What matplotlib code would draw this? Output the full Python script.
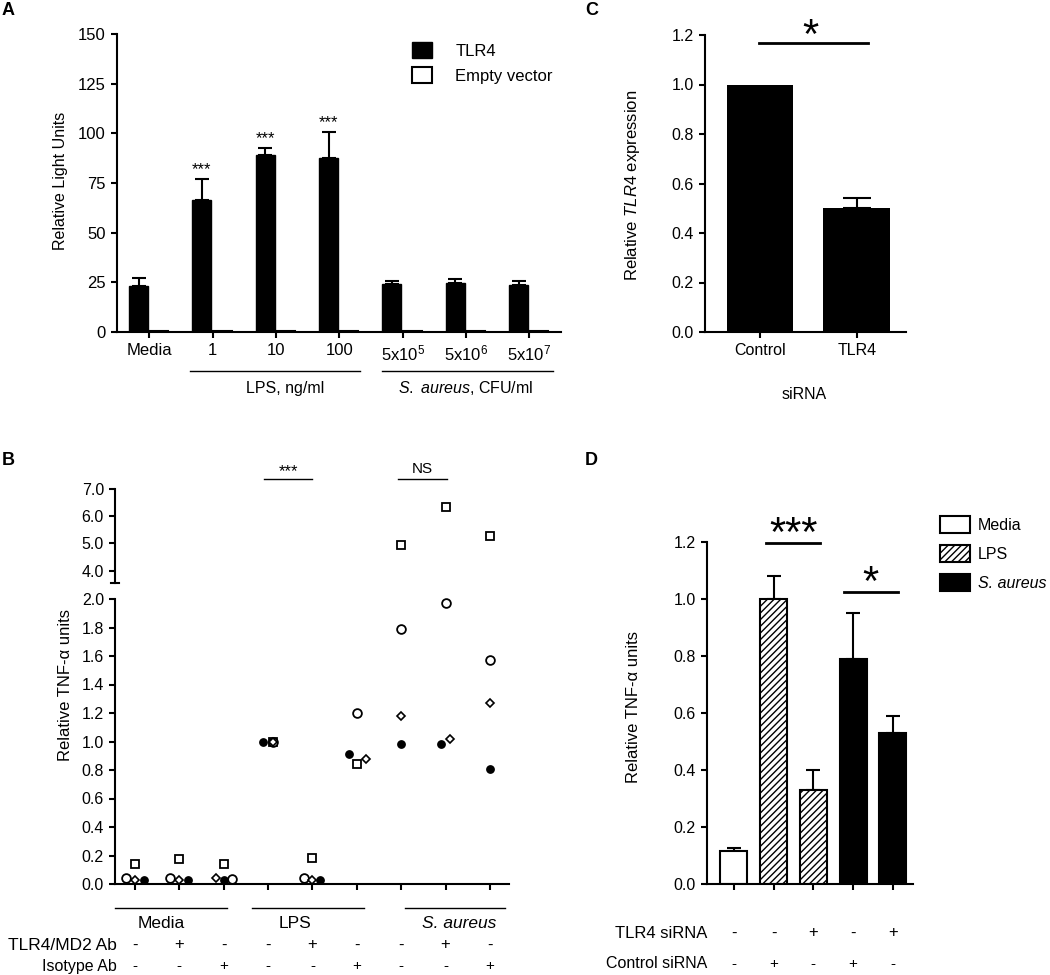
import numpy as np
import matplotlib.pyplot as plt
from matplotlib.ticker import FormatStrFormatter
from matplotlib.transforms import blended_transform_factory

plt.rcParams['font.family'] = ['Liberation Sans', 'DejaVu Sans']
plt.rcParams['mathtext.fontset'] = 'custom'
plt.rcParams['mathtext.rm'] = 'Liberation Sans'
plt.rcParams['mathtext.it'] = 'Liberation Sans:italic'
plt.rcParams['hatch.linewidth'] = 1.0

# ---- panel A data ----
a_labels = ['Media', '1', '10', '100', '5x10$^{5}$', '5x10$^{6}$', '5x10$^{7}$']
a_tlr4 = [23, 66.5, 89, 87.5, 24, 24.5, 23.5]
a_tlr4_err = [4, 10.5, 3.5, 13, 1.5, 2, 2]
a_empty = [0.4, 0.5, 0.6, 0.5, 0.4, 0.5, 0.5]
a_stars = ['', '***', '***', '***', '', '', '']
a_groups = ['LPS, ng/ml', r'$\mathit{S.\ aureus}$, CFU/ml']

# ---- panel C data ----
c_labels = ['Control', 'TLR4']
c_vals = [1.0, 0.50]
c_err = [0.0, 0.04]

# ---- panel B data (one list per donor) ----
b_groups = ['Media', 'LPS', 'S. aureus']
b_tlr4md2 = ['-', '+', '-', '-', '+', '-', '-', '+', '-']
b_isotype = ['-', '-', '+', '-', '-', '+', '-', '-', '+']
b_square = [0.14, 0.175, 0.14, 1.0, 0.18, 0.845, 4.95, 6.35, 5.28]
b_circle = [0.04, 0.045, 0.035, 1.0, 0.045, 1.2, 1.79, 1.97, 1.57]
b_diamond = [0.025, 0.025, 0.04, 1.0, 0.025, 0.88, 1.18, 1.02, 1.27]
b_filled = [0.025, 0.025, 0.025, 1.0, 0.025, 0.915, 0.98, 0.985, 0.81]

# ---- panel D data ----
d_kind = ['Media', 'LPS', 'LPS', 'S. aureus', 'S. aureus']
d_vals = [0.115, 1.0, 0.33, 0.79, 0.53]
d_err = [0.01, 0.08, 0.07, 0.16, 0.06]
d_tlr4si = ['-', '-', '+', '-', '+']
d_ctrlsi = ['-', '+', '-', '+', '-']

W, H = 1050, 975
fig = plt.figure(figsize=(W / 100, H / 100), dpi=100)

TICK_FS = 11.5
LAB_FS = 12


def px_axes(left, top, right, bottom):
    return fig.add_axes([left / W, 1 - bottom / H, (right - left) / W, (bottom - top) / H])


def fy(py):
    return 1 - py / H


def style(ax, fs=TICK_FS):
    for s in ['top', 'right']:
        ax.spines[s].set_visible(False)
    for s in ['left', 'bottom']:
        ax.spines[s].set_linewidth(1.5)
    ax.tick_params(width=1.5, length=4.5, labelsize=fs, direction='out')


# panel letters
for letter, px, py in [('A', 2, 2), ('C', 585, 2), ('B', 2, 452), ('D', 585, 452)]:
    fig.text(px / W, fy(py), letter, fontsize=13, fontweight='bold', ha='left', va='top')

# ================= A =================
ax = px_axes(117, 34, 561, 332)
style(ax, 12)
xa = np.arange(len(a_labels))
ax.bar(xa - 0.17, a_tlr4, 0.3, color='black', edgecolor='black', label='TLR4', zorder=2)
ax.bar(xa + 0.15, a_empty, 0.3, facecolor='white', edgecolor='black', linewidth=1.5,
       label='Empty vector', zorder=2)
ax.errorbar(xa - 0.17, a_tlr4, yerr=[np.zeros(len(xa)), a_tlr4_err], fmt='none', ecolor='black',
            elinewidth=1.5, capsize=5, capthick=1.5, zorder=1)
for xi, v, e, s in zip(xa, a_tlr4, a_tlr4_err, a_stars):
    if s:
        ax.text(xi - 0.17, v + e + 1, s, ha='center', va='bottom', fontsize=12)
ax.set_xlim(-0.51, 6.5)
ax.set_ylim(0, 150)
ax.set_yticks(np.arange(0, 151, 25))
ax.set_xticks(xa)
ax.set_xticklabels(a_labels)
ax.set_ylabel('Relative Light Units', fontsize=11.5)
ax.yaxis.set_label_coords(68 / W, fy(181), transform=fig.transFigure)
tA = blended_transform_factory(ax.transData, fig.transFigure)
for (x0, x1), lab, xc in zip([(0.65, 3.33), (3.67, 6.37)], a_groups, [2.15, 5.0]):
    ax.plot([x0, x1], [fy(371)] * 2, transform=tA, color='black', lw=1, clip_on=False)
    ax.text(xc, fy(388), lab, transform=tA, ha='center', va='center', fontsize=11.5)
ax.legend(loc='upper left', bbox_to_anchor=(412 / W, fy(42)), bbox_transform=fig.transFigure,
          frameon=False, fontsize=12, handlelength=1.2, handleheight=1.1, labelspacing=0.5,
          handletextpad=1.4, borderpad=0, borderaxespad=0)

# ================= C =================
ax = px_axes(705, 35, 906, 332)
style(ax)
xc_ = np.arange(1, len(c_labels) + 1)
ax.bar(xc_, c_vals, 0.69, color='black', zorder=2)
has_err = np.array(c_err) > 0
ax.errorbar(xc_[has_err], np.array(c_vals)[has_err],
            yerr=[np.zeros(has_err.sum()), np.array(c_err)[has_err]], fmt='none',
            ecolor='black', elinewidth=1.5, capsize=10, capthick=1.5, zorder=1)
ax.set_xlim(0.43, 2.51)
ax.set_ylim(0, 1.2)
ax.set_yticks(np.arange(0, 1.21, 0.2))
ax.yaxis.set_major_formatter(FormatStrFormatter('%.1f'))
ax.set_xticks(xc_)
ax.set_xticklabels(c_labels)
ax.plot([0.99, 2.12], [1.168, 1.168], color='black', lw=2, clip_on=False)
ax.text(1.52, 1.147, '*', ha='center', va='baseline', fontsize=30)
ax.set_ylabel('Relative $\\mathit{TLR4}$ expression', fontsize=LAB_FS)
ax.yaxis.set_label_coords(642 / W, fy(185), transform=fig.transFigure)
ax.set_xlabel('siRNA', fontsize=11.5)
ax.xaxis.set_label_coords(804 / W, fy(387), transform=fig.transFigure)

# ================= B =================
ax_bt = px_axes(115, 489, 509, 583)
ax_bl = px_axes(115, 599, 509, 884)
xb = np.arange(1, 10)
for a in (ax_bt, ax_bl):
    style(a)
    a.set_xlim(0.55, 9.43)
    a.yaxis.set_major_formatter(FormatStrFormatter('%.1f'))
ax_bt.spines['bottom'].set_visible(False)
ax_bt.set_xticks([])
ax_bt.set_ylim(3.55, 7.0)
ax_bt.set_yticks([4, 5, 6, 7])
ax_bt.plot([-0.009, 0.009], [0, 0], transform=ax_bt.transAxes, color='black', lw=1.5,
           clip_on=False)
ax_bl.set_ylim(0, 2.0)
ax_bl.set_yticks(np.arange(0, 2.01, 0.2))
ax_bl.set_xticks(xb)
ax_bl.set_xticklabels([])

donors = [
    (b_square, [0, 0, 0, 0.1, 0, 0, 0, 0, 0],
     dict(marker='s', ms=5.5, mfc='white', mec='black', mew=1.3)),
    (b_circle, [-0.2, -0.2, 0.18, 0.1, -0.2, 0, 0, 0, 0],
     dict(marker='o', ms=6.3, mfc='white', mec='black', mew=1.3)),
    (b_diamond, [0, 0, -0.18, 0.1, 0, 0.2, 0, 0.11, 0],
     dict(marker='D', ms=3.6, mfc='white', mec='black', mew=1.2)),
    (b_filled, [0.2, 0.2, 0, -0.12, 0.18, -0.18, 0, -0.11, 0],
     dict(marker='o', ms=5.3, mfc='black', mec='black', mew=1)),
]
for vals, dx, st in donors:
    vals = np.array(vals)
    xs = xb + np.array(dx)
    lo = vals <= 2.0
    ax_bl.plot(xs[lo], vals[lo], ls='none', clip_on=False, zorder=3, **st)
    ax_bt.plot(xs[~lo], vals[~lo], ls='none', clip_on=False, zorder=3, **st)

ax_bl.set_ylabel('Relative TNF-\u03b1 units', fontsize=LAB_FS)
ax_bl.yaxis.set_label_coords(73 / W, fy(685), transform=fig.transFigure)

tB = blended_transform_factory(ax_bl.transData, fig.transFigure)
# significance bars
ax_bl.plot([3.9, 5.0], [fy(479)] * 2, transform=tB, color='black', lw=1, clip_on=False)
ax_bl.text(4.45, fy(476), '***', transform=tB, ha='center', va='baseline', fontsize=12)
ax_bl.plot([6.92, 8.03], [fy(479)] * 2, transform=tB, color='black', lw=1, clip_on=False)
ax_bl.text(7.47, fy(469), 'NS', transform=tB, ha='center', va='center', fontsize=11)
# group lines and labels
for (x0, x1), lab, xc, it in zip([(0.55, 3.07), (3.64, 6.16), (7.08, 9.33)], b_groups,
                                 [1.6, 4.6, 8.3], [False, False, True]):
    ax_bl.plot([x0, x1], [fy(908)] * 2, transform=tB, color='black', lw=1, clip_on=False)
    ax_bl.text(xc, fy(924), lab, transform=tB, ha='center', va='center', fontsize=12.5,
               fontstyle='italic' if it else 'normal')
fig.text(117 / W, fy(945), 'TLR4/MD2 Ab', ha='right', va='center', fontsize=12.5)
fig.text(117 / W, fy(966), 'Isotype Ab', ha='right', va='center', fontsize=11.5)
for xi, s1, s2 in zip(xb, b_tlr4md2, b_isotype):
    ax_bl.text(xi, fy(945), s1, transform=tB, ha='center', va='center', fontsize=12)
    ax_bl.text(xi, fy(966), s2, transform=tB, ha='center', va='center', fontsize=11)

# ================= D =================
ax = px_axes(707, 542, 913, 884)
style(ax)
xd = np.arange(1, len(d_vals) + 1)
face = {'Media': 'white', 'LPS': 'white', 'S. aureus': 'black'}
hatch = {'Media': None, 'LPS': '/////', 'S. aureus': None}
seen = set()
for xi, v, k in zip(xd, d_vals, d_kind):
    ax.bar(xi, v, 0.68, facecolor=face[k], edgecolor='black', hatch=hatch[k], linewidth=1.5,
           label=k if k not in seen else None, zorder=2)
    seen.add(k)
ax.errorbar(xd, d_vals, yerr=[np.zeros(len(xd)), d_err], fmt='none', ecolor='black',
            elinewidth=1.5, capsize=5, capthick=1.5, zorder=1)
ax.set_xlim(0.32, 5.51)
ax.set_ylim(0, 1.2)
ax.set_yticks(np.arange(0, 1.21, 0.2))
ax.yaxis.set_major_formatter(FormatStrFormatter('%.1f'))
ax.set_xticks(xd)
ax.set_xticklabels([])
ax.plot([1.8, 3.17], [1.197, 1.197], color='black', lw=2, clip_on=False)
ax.text(2.49, 1.186, '***', ha='center', va='baseline', fontsize=30)
ax.plot([3.76, 5.12], [1.025, 1.025], color='black', lw=2, clip_on=False)
ax.text(4.44, 1.015, '*', ha='center', va='baseline', fontsize=30)
ax.set_ylabel('Relative TNF-\u03b1 units', fontsize=LAB_FS)
ax.yaxis.set_label_coords(641 / W, fy(707), transform=fig.transFigure)
leg = ax.legend(loc='upper left', bbox_to_anchor=(940 / W, fy(516)), bbox_transform=fig.transFigure,
                frameon=False, fontsize=11.5, handlelength=1.9, handleheight=1.25, labelspacing=0.75,
                handletextpad=0.45, borderpad=0, borderaxespad=0)
leg.get_texts()[2].set_fontstyle('italic')
tD = blended_transform_factory(ax.transData, fig.transFigure)
fig.text(707 / W, fy(933), 'TLR4 siRNA', ha='right', va='center', fontsize=12)
fig.text(707 / W, fy(964), 'Control siRNA', ha='right', va='center', fontsize=11.5)
for xi, s1, s2 in zip(xd, d_tlr4si, d_ctrlsi):
    ax.text(xi, fy(933), s1, transform=tD, ha='center', va='center', fontsize=12)
    ax.text(xi, fy(964), s2, transform=tD, ha='center', va='center', fontsize=11)

fig.savefig('out.png', dpi=100)
